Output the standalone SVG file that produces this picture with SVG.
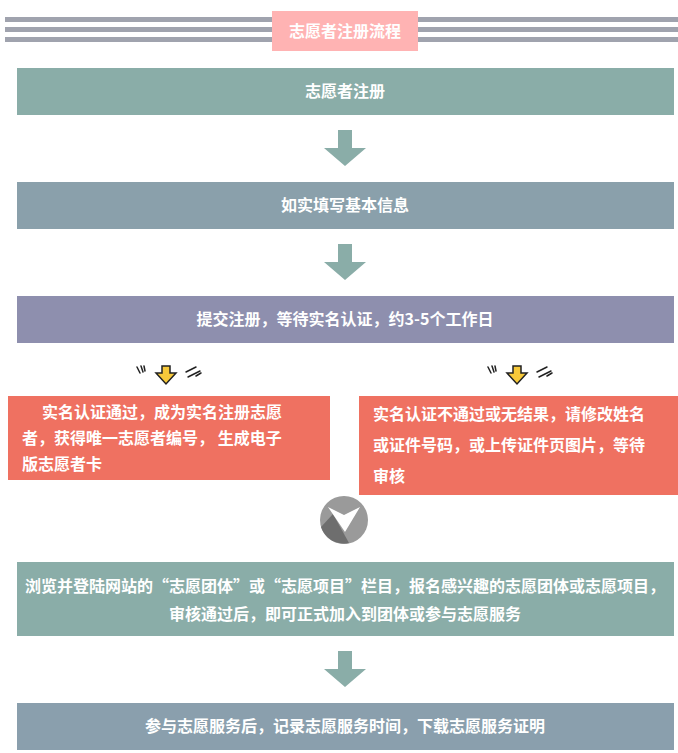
<svg xmlns="http://www.w3.org/2000/svg" width="678" height="753" viewBox="0 0 678 753">
<style>
text{font-family:"Noto Sans CJK SC","Liberation Sans",sans-serif;fill:#fff;font-weight:bold;font-size:16px}
.c{text-anchor:middle}
.ar{fill:#8aada8}
.ya{fill:#f7c93a;stroke:#222;stroke-width:1.5}
.sk{stroke:#222;stroke-width:1.5;fill:none;stroke-linecap:round}
</style>
<g id="header">
<rect x="5" y="17" width="673" height="5" fill="#a0a3ae"/>
<rect x="5" y="27" width="673" height="5" fill="#a0a3ae"/>
<rect x="5" y="37" width="673" height="5" fill="#a0a3ae"/>
<rect x="272" y="11" width="146" height="40" fill="#ffb3b3"/>
<text class="c" x="345" y="37" font-size="16">志愿者注册流程</text>
</g>
<g id="n1"><rect x="17" y="68" width="657" height="47" fill="#8aada8"/><text class="c" x="345" y="97">志愿者注册</text></g>
<g id="n2"><rect x="17" y="182" width="657" height="47" fill="#8aa0ab"/><text class="c" x="345" y="211">如实填写基本信息</text></g>
<g id="n3"><rect x="17" y="296" width="657" height="47" fill="#8e8fae"/><text class="c" x="345" y="325">提交注册，等待实名认证，约3-5个工作日</text></g>
<g id="n4"><rect x="8" y="396" width="322" height="84" fill="#ef7161"/>
<text x="42" y="418">实名认证通过，成为实名注册志愿</text>
<text x="22" y="444">者，获得唯一志愿者编号， 生成电子</text>
<text x="22" y="470">版志愿者卡</text></g>
<g id="n5"><rect x="359" y="396" width="319" height="99" fill="#ef7161"/>
<text x="373" y="420">实名认证不通过或无结果，请修改姓名</text>
<text x="373" y="451">或证件号码，或上传证件页图片，等待</text>
<text x="373" y="482">审核</text></g>
<g id="n6"><rect x="17" y="562" width="657" height="74" fill="#8aada8"/>
<text class="c" x="345" y="592">浏览并登陆网站的“志愿团体”或“志愿项目”栏目，报名感兴趣的志愿团体或志愿项目，</text>
<text class="c" x="345" y="620">审核通过后，即可正式加入到团体或参与志愿服务</text></g>
<g id="n7"><rect x="17" y="703" width="657" height="47" fill="#8a9fad"/><text class="c" x="345" y="732">参与志愿服务后，记录志愿服务时间，下载志愿服务证明</text></g>
<g id="connectors">
<path class="ar" d="M338 130h14v18h14l-21 18l-21-18h14z"/>
<path class="ar" d="M338 244h14v18h14l-21 18l-21-18h14z"/>
<path class="ar" d="M338 651h14v18h14l-21 18l-21-18h14z"/>
<g transform="translate(166,375)">
<path class="ya" d="M-4-9h8v7h6l-10 11l-10-11h6z"/>
<path class="sk" d="M-29-8l3 6M-25-9l2 6M-22-9l1 5M20-3l10-5M22 2l12-6M30 1l5-3"/></g>
<g transform="translate(517,375)">
<path class="ya" d="M-4-9h8v7h6l-10 11l-10-11h6z"/>
<path class="sk" d="M-29-8l3 6M-25-9l2 6M-22-9l1 5M20-3l10-5M22 2l12-6M30 1l5-3"/></g>
<circle cx="344" cy="520" r="24" fill="#9a9a9a"/>
<path d="M321 527l12-13l16 29a24 24 0 0 1-28-16z" fill="#6e6e6e"/>
<path d="M328 507l16 8l16-8l-15 25z" fill="#fff"/>
</g>
</svg>
